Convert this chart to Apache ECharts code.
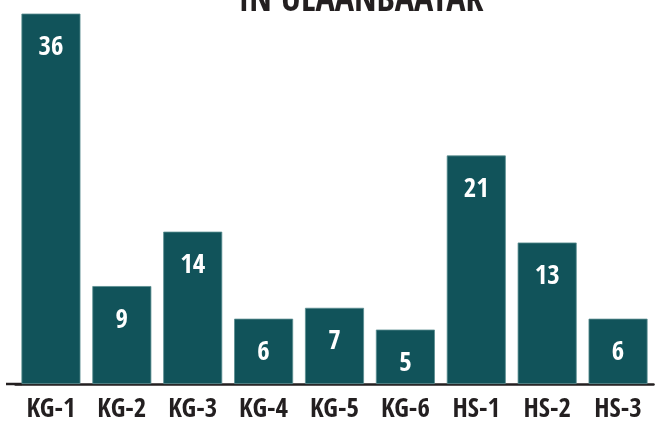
<!DOCTYPE html>
<html>
<head>
<meta charset="utf-8">
<script src="https://cdn.jsdelivr.net/npm/echarts@6/dist/echarts.min.js"></script>
<style>
  html, body { margin: 0; padding: 0; background: #fff; }
  #chart { width: 656px; height: 421px; }
</style>
</head>
<body>
<div id="chart"></div>
<script>
// data
const categories = ["KG-1", "KG-2", "KG-3", "KG-4", "KG-5", "KG-6", "HS-1", "HS-2", "HS-3"];
const counts = [36, 9, 14, 6, 7, 5, 21, 13, 6];
const titleText = "IN ULAANBAATAR";

const font = "'Open Sans Condensed', 'DejaVu Sans Condensed', sans-serif";

const myChart = echarts.init(document.getElementById("chart"));

const option = {
  animation: false,
  title: {
    text: titleText,
    left: 356,
    textAlign: "center",
    top: -21,
    textStyle: {
      fontFamily: font,
      fontWeight: "bold",
      fontSize: 36,
      color: "#231f20",
    },
  },
  grid: {
    left: 15.5,
    right: 2.5,
    top: 14,
    bottom: 37,
    // keep the plot box where it is, labels may sit near the edge
    outerBoundsMode: "none",
    containLabel: false,
  },
  xAxis: {
    type: "category",
    data: categories,
    axisTick: { show: false },
    axisLine: {
      lineStyle: { color: "#231f20", width: 2.5 },
    },
    axisLabel: {
      interval: 0,
      margin: 12,
      fontFamily: font,
      fontWeight: "bold",
      fontSize: 27,
      color: "#231f20",
    },
  },
  yAxis: {
    type: "value",
    min: 0,
    max: 34,
    show: false,
    splitLine: { show: false },
  },
  // the baseline runs a little past the first bar on the left
  graphic: [
    {
      type: "line",
      shape: { x1: 6, y1: 384, x2: 22, y2: 384 },
      style: { stroke: "#231f20", lineWidth: 2.5 },
    },
  ],
  series: [
    {
      type: "bar",
      data: counts,
      barWidth: 59,
      clip: true,
      itemStyle: {
        color: "#11535a",
        borderColor: "#5b8e91",
        borderWidth: 0.8,
      },
      label: {
        show: true,
        position: "insideTop",
        distance: 21,
        fontFamily: font,
        fontWeight: "bold",
        fontSize: 27,
        color: "#ffffff",
      },
      z: 1,
    },
  ],
};

myChart.setOption(option);
</script>
</body>
</html>
